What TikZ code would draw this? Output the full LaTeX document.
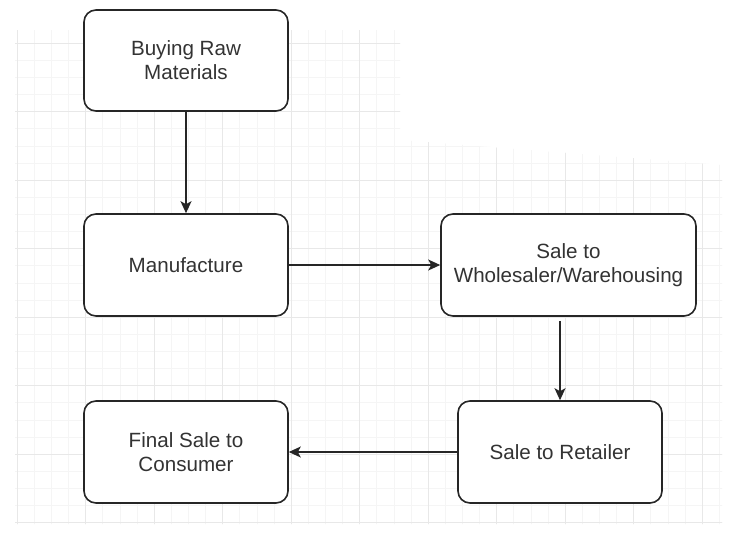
\documentclass[tikz,border=0pt]{standalone}
\usepackage{fontspec}
\setmainfont{Liberation Sans}
\usetikzlibrary{arrows.meta,calc}
\begin{document}
\begin{tikzpicture}[x=1pt,y=-1pt,
  box/.style={draw=black!85,line width=1.6pt,rounded corners=12pt,fill=white,
    align=center,text=black!80,font=\fontsize{20.6}{24}\selectfont,inner sep=0pt},
  flow/.style={draw=black!85,line width=1.4pt,-{Stealth[length=12pt,width=11pt,inset=3pt]}},
  minorgrid/.style={draw=black!4,line width=0.5pt},
  majorgrid/.style={draw=black!9,line width=0.6pt}]
\useasboundingbox[fill=white] (0,0) rectangle (741,533);
\begin{scope}
  \clip (15,30) -- (400,30) -- (400,140) -- (722,165) -- (722,524) -- (15,524) -- cycle;
  \foreach \i in {0,...,42} {
    \draw[minorgrid] ({17+17.125*\i},0) -- ({17+17.125*\i},533);
  }
  \foreach \j in {0,...,32} {
    \draw[minorgrid] (0,{-25.5+17.125*\j}) -- (741,{-25.5+17.125*\j});
  }
  \foreach \i in {0,...,10} {
    \draw[majorgrid] ({17+68.5*\i},0) -- ({17+68.5*\i},533);
  }
  \foreach \j in {0,...,8} {
    \draw[majorgrid] (0,{-25.5+68.5*\j}) -- (741,{-25.5+68.5*\j});
  }
\end{scope}
\node[box,minimum width=204pt,minimum height=101pt] (buy) at (186,60.5) {Buying Raw\\Materials};
\node[box,minimum width=204pt,minimum height=102pt] (man) at (186,265) {Manufacture};
\node[box,minimum width=255pt,minimum height=102pt] (whole) at (568.5,265) {Sale to\\Wholesaler/Warehousing};
\node[box,minimum width=204pt,minimum height=102pt] (ret) at (560,452) {Sale to Retailer};
\node[box,minimum width=204pt,minimum height=102pt] (fin) at (186,452) {Final Sale to\\Consumer};
\draw[flow] (buy) -- (man);
\draw[flow] (man) -- (whole);
\draw[flow,shorten <=4pt] (whole.south -| ret.north) -- (ret.north);
\draw[flow] (ret) -- (fin);
\end{tikzpicture}
\end{document}
